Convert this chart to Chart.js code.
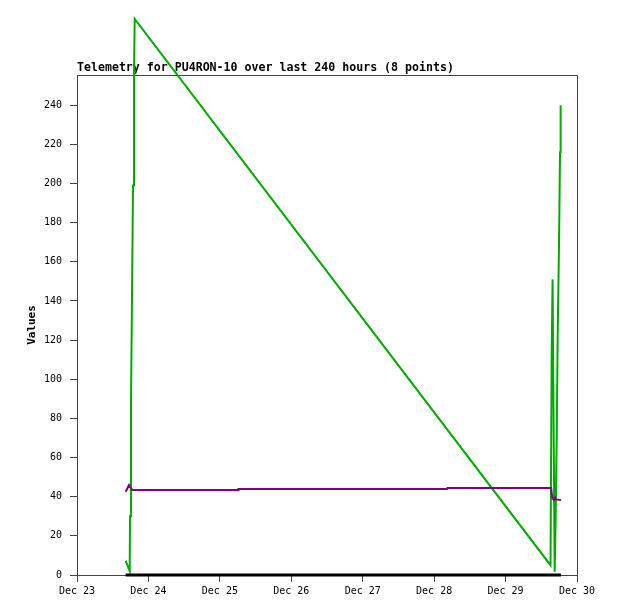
<!DOCTYPE html>
<html>
<head>
<meta charset="utf-8">
<title>Telemetry for PU4RON-10</title>
<script src="https://cdn.jsdelivr.net/npm/chart.js@4/dist/chart.umd.min.js"></script>
<style>
  body { margin: 0; background: #fff; }
  #wrap { width: 618px; height: 615px; }
</style>
</head>
<body>
<div id="wrap"><canvas id="myChart" width="618" height="615"></canvas></div>
<script>
// hours since Dec 23 00:00
const greenHours = [16.36, 17.71, 17.81, 18.14, 18.48, 18.82, 19.15, 19.39,
                    159.1, 159.5, 159.8, 160.5, 160.8, 161.2, 161.5, 161.95, 162.3, 162.5];
const greenValues = [7.2, 2, 30, 87, 142, 199, 256, 284,
                     5, 114, 151, 1.7, 26.5, 73, 121, 168.5, 216, 240];

const purpleHours = [16.36, 17.47, 18.58, 54.1, 54.26, 124.3, 124.5, 159.3,
                     159.7, 160.2, 160.6, 160.9, 162.6];
const purpleValues = [42.5, 46, 43.4, 43.4, 43.9, 43.9, 44.4, 44.4,
                      39.4, 38.3, 39.6, 38.6, 38.3];

const blackHours = [16.36, 162.6];
const blackValues = [0, 0];

const xTicks = [0, 24, 48, 72, 96, 120, 144, 168];
const xTickLabels = ['Dec 23', 'Dec 24', 'Dec 25', 'Dec 26', 'Dec 27', 'Dec 28', 'Dec 29', 'Dec 30'];
const yTicks = [0, 20, 40, 60, 80, 100, 120, 140, 160, 180, 200, 220, 240];

const chartTitle = 'Telemetry for PU4RON-10 over last 240 hours (8 points)';

function pairs(xs, ys) {
    return xs.map((x, i) => ({ x: x, y: ys[i] }));
}

Chart.defaults.font.family = '"DejaVu Sans Mono", monospace';
Chart.defaults.color = '#000';

// frame round the plot + title above it
const frame = {
    id: 'frame',
    beforeDatasetsDraw(chart) {
        const { ctx, chartArea: a } = chart;
        ctx.save();
        ctx.strokeStyle = '#444';
        ctx.lineWidth = 1;
        ctx.beginPath();
        ctx.moveTo(a.left, a.top + 0.5);
        ctx.lineTo(a.right + 0.5, a.top + 0.5);
        ctx.lineTo(a.right + 0.5, a.bottom);
        ctx.stroke();
        ctx.fillStyle = '#000';
        ctx.font = 'bold 11.6px "DejaVu Sans Mono", monospace';
        ctx.textBaseline = 'alphabetic';
        ctx.fillText(chartTitle, a.left, a.top - 4);
        ctx.restore();
    }
};

const axisGrid = {
    display: true,
    drawOnChartArea: false,
    drawTicks: true,
    tickLength: 7,
    color: '#444',
    lineWidth: 1
};

new Chart(document.getElementById('myChart').getContext('2d'), {
    type: 'line',
    data: {
        datasets: [
            {
                label: 'black',
                data: pairs(blackHours, blackValues),
                borderColor: '#000',
                borderWidth: 3,
                pointRadius: 0,
                clip: false
            },
            {
                label: 'purple',
                data: pairs(purpleHours, purpleValues),
                borderColor: 'rgb(128,0,128)',
                borderWidth: 2,
                pointRadius: 0,
                clip: false
            },
            {
                label: 'green',
                data: pairs(greenHours, greenValues),
                borderColor: 'rgb(0,170,0)',
                borderWidth: 2,
                pointRadius: 0,
                clip: false
            }
        ]
    },
    options: {
        responsive: false,
        animation: false,
        layout: { padding: { top: 75, right: 41, left: 0, bottom: 0 } },
        plugins: {
            legend: { display: false },
            tooltip: { enabled: false }
        },
        scales: {
            x: {
                type: 'linear',
                min: 0,
                max: 168,
                grid: axisGrid,
                border: { display: true, color: '#444' },
                afterBuildTicks: s => { s.ticks = xTicks.map(v => ({ value: v })); },
                afterFit: s => { s.height = 40; },
                ticks: {
                    maxRotation: 0,
                    padding: 3,
                    font: { size: 10 },
                    callback: (v) => xTickLabels[xTicks.indexOf(v)]
                }
            },
            y: {
                type: 'linear',
                min: 0,
                max: 255.4,
                grid: axisGrid,
                border: { display: true, color: '#444' },
                afterBuildTicks: s => { s.ticks = yTicks.map(v => ({ value: v })); },
                afterFit: s => { s.width = 77; },
                ticks: { padding: 8, font: { size: 10 } },
                title: {
                    display: true,
                    text: 'Values',
                    font: { size: 11, weight: 'bold' },
                    padding: { top: 26, bottom: 0 }
                }
            }
        }
    },
    plugins: [frame]
});
</script>
</body>
</html>
